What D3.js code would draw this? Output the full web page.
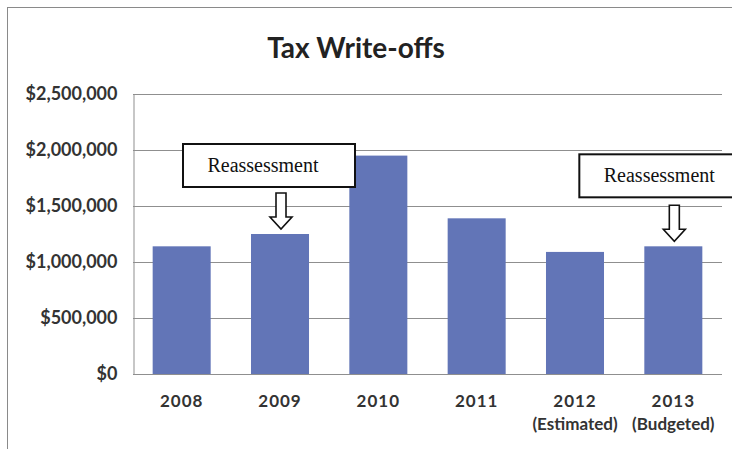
<!DOCTYPE html>
<html>
<head>
<meta charset="utf-8">
<script src="https://cdn.jsdelivr.net/npm/d3@7"></script>
<style>
  body { margin: 0; background: #fff; }
</style>
</head>
<body>
<div id="grafico"></div>
<script>
const years = ["2008", "2009", "2010", "2011", "2012", "2013"];
const subLabels = ["", "", "", "", "(Estimated)", "(Budgeted)"];
const writeOffs = [1140000, 1250000, 1950000, 1390000, 1090000, 1140000];
const yTicks = [0, 500000, 1000000, 1500000, 2000000, 2500000];
const noteYears = ["2009", "2013"];
const noteTexts = ["Reassessment", "Reassessment"];

const width = 732;
const height = 449;
const margin = { top: 94, right: 10, bottom: 75, left: 133 };

const data = years.map((y, i) => ({ year: y, sub: subLabels[i], value: writeOffs[i] }));

const svg = d3
  .select("#grafico")
  .append("svg")
  .attr("width", width)
  .attr("height", height);

// marco exterior
svg
  .append("rect")
  .attr("x", 7.5)
  .attr("y", 7.5)
  .attr("width", width + 10)
  .attr("height", height + 10)
  .attr("fill", "none")
  .attr("stroke", "#8a8a8a")
  .attr("stroke-width", 1);

const x = d3
  .scaleBand()
  .domain(years)
  .range([margin.left, width - margin.right])
  .paddingInner(0.41)
  .paddingOuter(0.2);

const y = d3
  .scaleLinear()
  .domain([0, 2500000])
  .range([height - margin.bottom, margin.top]);

// titulo
svg
  .append("text")
  .attr("x", 356)
  .attr("y", 58)
  .attr("text-anchor", "middle")
  .style("font-family", "Lato, 'Open Sans', sans-serif")
  .style("font-weight", "bold")
  .style("font-size", "28px")
  .attr("fill", "#222")
  .text("Tax Write-offs");

// lineas de grilla
svg
  .append("g")
  .selectAll("line")
  .data(yTicks)
  .join("line")
  .attr("x1", margin.left)
  .attr("x2", width - margin.right)
  .attr("y1", (d) => Math.round(y(d)) + 0.5)
  .attr("y2", (d) => Math.round(y(d)) + 0.5)
  .attr("stroke", "#8f8f8f")
  .attr("stroke-width", 1);

// Eje Y
const yAxis = svg
  .append("g")
  .attr("transform", `translate(${margin.left + 0.5},0)`)
  .call(
    d3
      .axisLeft(y)
      .tickValues(yTicks)
      .tickSize(0)
      .tickPadding(16)
      .tickFormat((d) => "$" + d3.format(",")(d))
  );
yAxis.select(".domain").attr("stroke", "#8f8f8f");
yAxis
  .selectAll("text")
  .style("font-family", "Lato, 'Open Sans', sans-serif")
  .style("font-weight", "bold")
  .style("font-size", "18px")
  .attr("fill", "#333");

// barras
svg
  .append("g")
  .selectAll("rect")
  .data(data)
  .join("rect")
  .attr("x", (d) => x(d.year))
  .attr("y", (d) => y(d.value))
  .attr("width", x.bandwidth())
  .attr("height", (d) => y(0) - y(d.value))
  .attr("fill", "#6275b7");

// Eje X
const xAxis = svg
  .append("g")
  .attr("transform", `translate(0,${y(0)})`)
  .call(d3.axisBottom(x).tickSize(0).tickPadding(21));
xAxis.select(".domain").remove();
xAxis
  .selectAll(".tick text")
  .style("font-family", "Lato, 'Open Sans', sans-serif")
  .style("font-weight", "bold")
  .style("font-size", "17px")
  .style("letter-spacing", "1px")
  .attr("fill", "#333");

svg
  .append("g")
  .selectAll("text")
  .data(data.filter((d) => d.sub))
  .join("text")
  .attr("x", (d) => x(d.year) + x.bandwidth() / 2)
  .attr("y", 430)
  .attr("text-anchor", "middle")
  .style("font-family", "Lato, 'Open Sans', sans-serif")
  .style("font-weight", "bold")
  .style("font-size", "17px")
  .attr("fill", "#333")
  .text((d) => d.sub);

// anotaciones
const boxLeft = [-98, -95];
const boxGap = [6, 8];
const arrowLen = 36;
const boxH = 43;
const boxW = 172;

noteYears.forEach((yr, i) => {
  const d = data.find((e) => e.year === yr);
  const cx = x(yr) + x.bandwidth() / 2 + 1;
  const tip = y(d.value) - 5;
  const top = tip - arrowLen;
  const headTop = tip - 12;
  const path = d3.path();
  path.moveTo(cx - 5, top);
  path.lineTo(cx + 5, top);
  path.lineTo(cx + 5, headTop);
  path.lineTo(cx + 11, headTop);
  path.lineTo(cx, tip);
  path.lineTo(cx - 11, headTop);
  path.lineTo(cx - 5, headTop);
  path.closePath();
  svg
    .append("path")
    .attr("d", path.toString())
    .attr("fill", "#fff")
    .attr("stroke", "#111")
    .attr("stroke-width", 1.6)
    .attr("stroke-linejoin", "miter");

  const bx = cx + boxLeft[i];
  const by = top - boxGap[i] - boxH;
  svg
    .append("rect")
    .attr("x", bx)
    .attr("y", by)
    .attr("width", boxW)
    .attr("height", boxH)
    .attr("fill", "#fff")
    .attr("stroke", "#111")
    .attr("stroke-width", 2);
  svg
    .append("text")
    .attr("x", bx + 80)
    .attr("y", by + 28)
    .attr("text-anchor", "middle")
    .style("font-family", "'Liberation Serif', 'Times New Roman', serif")
    .style("font-size", "20px")
    .attr("fill", "#111")
    .text(noteTexts[i]);
});
</script>
</body>
</html>
